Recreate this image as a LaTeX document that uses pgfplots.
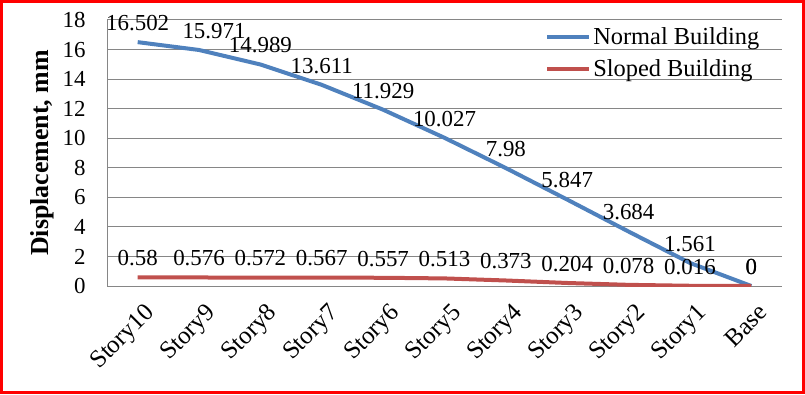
\documentclass[border=0pt]{standalone}
\usepackage{fontspec}
\setmainfont{Liberation Serif}
\usepackage{pgfplots}
\usepackage{pgfplotstable}
\pgfplotsset{compat=1.18}
\definecolor{nb}{HTML}{4F81BD}
\definecolor{sb}{HTML}{C0504D}
\definecolor{gr}{HTML}{868686}
\pgfplotstableread{
x y lab
0 16.502 16.502
1 15.971 {\hspace*{30bp}15.971}
2 14.989 14.989
3 13.611 13.611
4 11.929 11.929
5 10.027 10.027
6 7.98 7.98
7 5.847 5.847
8 3.684 3.684
9 1.561 1.561
10 0 0
}\normal
\pgfplotstableread{
x y lab
0 0.58 0.58
1 0.576 0.576
2 0.572 0.572
3 0.567 0.567
4 0.557 0.557
5 0.513 0.513
6 0.373 0.373
7 0.204 0.204
8 0.078 0.078
9 0.016 0.016
10 0 0
}\sloped
\begin{document}
\begin{tikzpicture}[x=1bp,y=1bp]
\useasboundingbox (0,0) rectangle (805,394);
\begin{axis}[
 at={(107bp,108bp)}, anchor=south west,
 scale only axis, width=675bp, height=266bp,
 xmin=-0.5, xmax=10.5, ymin=0, ymax=18,
 xtick={0,...,10},
 xticklabels={Story10,Story9,Story8,Story7,Story6,Story5,Story4,Story3,Story2,Story1,Base},
 x tick label style={rotate=45, anchor=north east, font=\fontsize{25}{29}\selectfont, yshift=-12bp, xshift=-4bp},
 ytick={0,2,...,18},
 y tick label style={font=\fontsize{23}{26}\selectfont, xshift=-18bp},
 /pgf/number format/assume math mode=true,
 ymajorgrids, grid style={gr, line width=1bp},
 axis x line=bottom, axis y line=left, axis line style={gr, line width=1bp, -},
 major tick length=0pt,
 ylabel={\textbf{Displacement, mm}},
 ylabel style={font=\fontsize{26}{30}\selectfont, at={(axis description cs:0,0.5)}, anchor=center, yshift=65bp},
 legend style={at={(0.649,0.978)}, anchor=north west, draw=none, fill=none,
   font=\fontsize{24.5}{28}\selectfont, row sep=9bp, inner sep=0pt,
   /tikz/every even column/.append style={column sep=3bp}},
 legend cell align=left,
 legend image code/.code={\draw[#1, line width=4bp] (0bp,0bp) -- (42bp,0bp);},
 nodes near coords, point meta=explicit symbolic,
 every node near coord/.append style={font=\fontsize{23}{26}\selectfont, anchor=south, yshift=6bp, text=black},
]
\addplot[nb, line width=4bp, no markers] table[x=x, y=y, meta=lab] {\normal};
\addlegendentry{Normal Building}
\addplot[sb, line width=4bp, no markers] table[x=x, y=y, meta=lab] {\sloped};
\addlegendentry{Sloped Building}
\end{axis}
\draw[red, line width=3bp] (1.5,1.5) rectangle (803.5,392.5);
\end{tikzpicture}
\end{document}
